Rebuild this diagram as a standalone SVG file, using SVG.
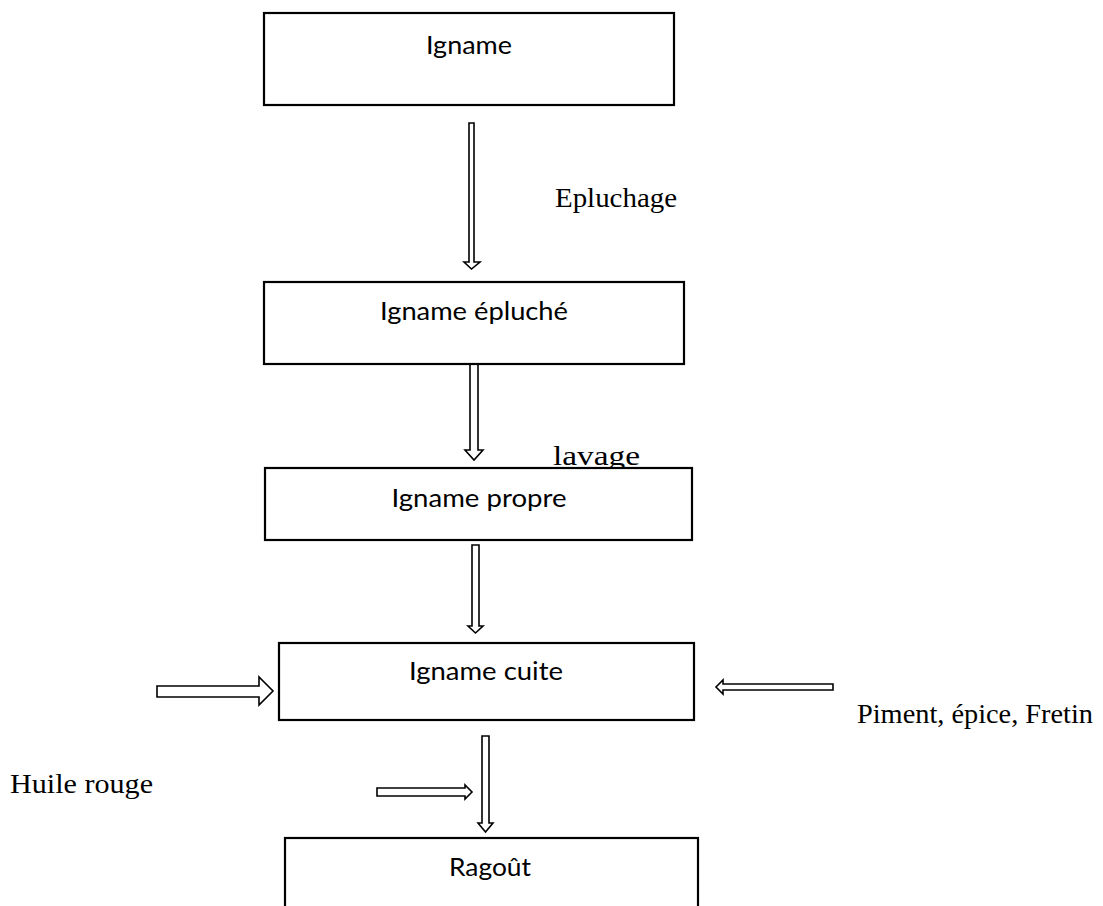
<svg xmlns="http://www.w3.org/2000/svg" width="1103" height="906" viewBox="0 0 1103 906">
<style>
.box{fill:#fff;stroke:#000;stroke-width:2.2}
.arr{fill:#fff;stroke:#000;stroke-width:1.6;stroke-linejoin:miter}
.t{font-family:Lato,"Open Sans","Liberation Sans",sans-serif;font-size:25px;fill:#000;text-anchor:middle}
.s{font-family:"Liberation Serif","Times New Roman",serif;font-size:26.5px;fill:#000}
</style>
<rect width="1103" height="906" fill="#fff"/>
<g id="labels">
<text class="s" x="555" y="207" textLength="122" lengthAdjust="spacingAndGlyphs">Epluchage</text>
<text class="s" x="553" y="465" textLength="87" lengthAdjust="spacingAndGlyphs">lavage</text>
<text class="s" x="857" y="723" textLength="236" lengthAdjust="spacingAndGlyphs">Piment, épice, Fretin</text>
<text class="s" x="10" y="793" textLength="143" lengthAdjust="spacingAndGlyphs">Huile rouge</text>
</g>
<g id="connectors">
<polygon class="arr" points="469,123 474,123 474,262 480,262 471.5,269 464,262 469,262"/>
<polygon class="arr" points="470,364 478,364 478,450 483,450 474,460 465,450 470,450"/>
<polygon class="arr" points="472,545 479,545 479,626 483,626 475.5,633 468,626 472,626"/>
<polygon class="arr" points="157,686 259,686 259,677 273,691 259,705 259,697 157,697"/>
<polygon class="arr" points="833,684 723,684 723,680 716,687 723,694 723,690 833,690"/>
<polygon class="arr" points="482,736 489,736 489,823 493,823 485.5,832 478,823 482,823"/>
<polygon class="arr" points="377,788 465,788 465,785 472,792 465,799 465,796 377,796"/>
</g>
<g id="node-igname">
<rect class="box" x="264" y="13" width="410" height="92"/>
<text class="t" x="469" y="54" textLength="86" lengthAdjust="spacingAndGlyphs">Igname</text>
</g>
<g id="node-igname-epluche">
<rect class="box" x="264" y="282" width="420" height="82"/>
<text class="t" x="474" y="320" textLength="188" lengthAdjust="spacingAndGlyphs">Igname épluché</text>
</g>
<g id="node-igname-propre">
<rect class="box" x="265" y="468" width="427" height="72"/>
<text class="t" x="479" y="507" textLength="175" lengthAdjust="spacingAndGlyphs">Igname propre</text>
</g>
<g id="node-igname-cuite">
<rect class="box" x="279" y="643" width="415" height="77"/>
<text class="t" x="486" y="680" textLength="154" lengthAdjust="spacingAndGlyphs">Igname cuite</text>
</g>
<g id="node-ragout">
<rect class="box" x="285" y="838" width="413" height="90"/>
<text class="t" x="490" y="876" textLength="82" lengthAdjust="spacingAndGlyphs">Ragoût</text>
</g>
</svg>
